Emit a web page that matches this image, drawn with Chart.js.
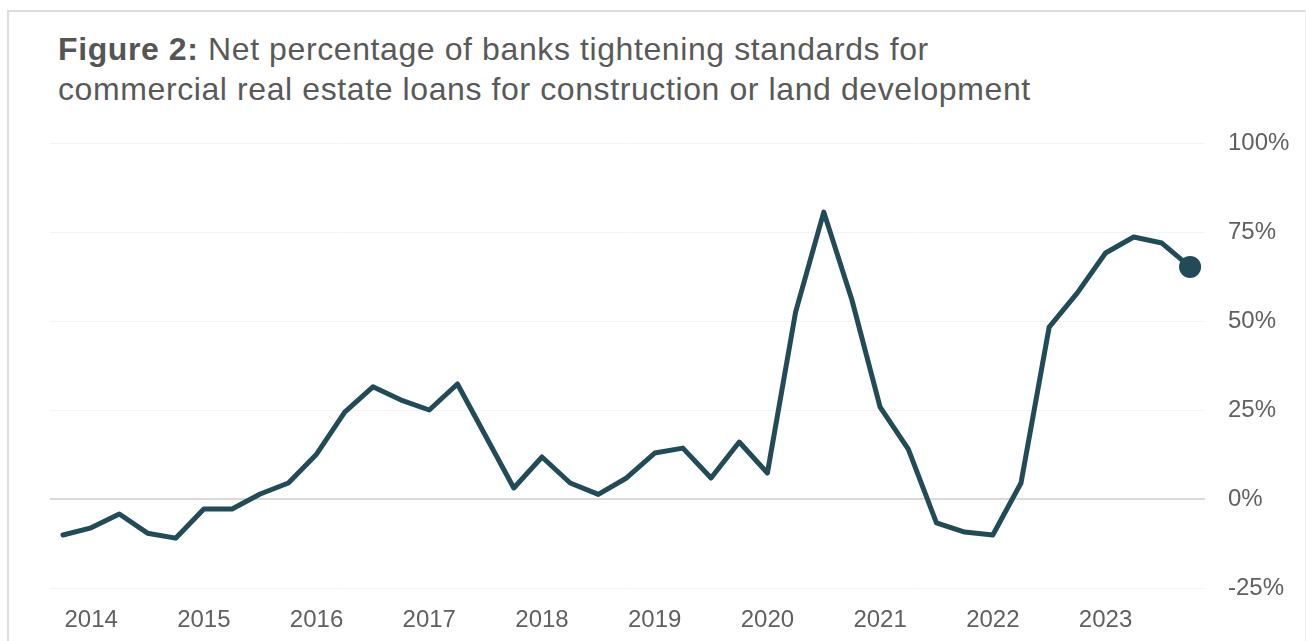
<!DOCTYPE html>
<html>
<head>
<meta charset="utf-8">
<script src="https://cdn.jsdelivr.net/npm/chart.js@4"></script>
<style>
  html, body { margin: 0; padding: 0; background: #fff; }
  body { width: 1306px; height: 641px; position: relative; overflow: hidden; font-family: "Liberation Sans", Arial, sans-serif; }
  .frame { position: absolute; left: 7px; top: 10px; right: 0; bottom: -5px; border-top: 2px solid #dcdcdc; border-left: 2px solid #dcdcdc; border-right: 1px solid #ececec; }
  .title { position: absolute; left: 58px; top: 29px; font-size: 32px; letter-spacing: 0.6px; line-height: 40px; color: #595959; white-space: nowrap; }
  .title b { color: #555; }
  #chart { position: absolute; left: 0; top: 0; }
</style>
</head>
<body>
<div class="frame"></div>
<div class="title"><b>Figure 2:</b> Net percentage of banks tightening standards for<br>commercial real estate loans for construction or land development</div>
<canvas id="chart" width="1306" height="641"></canvas>
<script>
// quarterly survey dates, 2013 Q4 .. 2023 Q4
const quarters = [
  '2013 Q4',
  '2014 Q1','2014 Q2','2014 Q3','2014 Q4',
  '2015 Q1','2015 Q2','2015 Q3','2015 Q4',
  '2016 Q1','2016 Q2','2016 Q3','2016 Q4',
  '2017 Q1','2017 Q2','2017 Q3','2017 Q4',
  '2018 Q1','2018 Q2','2018 Q3','2018 Q4',
  '2019 Q1','2019 Q2','2019 Q3','2019 Q4',
  '2020 Q1','2020 Q2','2020 Q3','2020 Q4',
  '2021 Q1','2021 Q2','2021 Q3','2021 Q4',
  '2022 Q1','2022 Q2','2022 Q3','2022 Q4',
  '2023 Q1','2023 Q2','2023 Q3','2023 Q4'
];
// net % tightening
const netTightening = [
  -10.1,
  -8.1, -4.2, -9.6, -11.0,
  -2.8, -2.8, 1.4, 4.5,
  12.6, 24.4, 31.5, 27.8,
  25.0, 32.3, 17.7, 3.1,
  11.8, 4.5, 1.3, 5.9,
  12.9, 14.3, 5.9, 16.0,
  7.3, 52.5, 80.6, 55.9,
  25.8, 14.0, -6.7, -9.3,
  -10.1, 4.5, 48.3, 57.9,
  69.1, 73.6, 71.9, 65.2
];
const yearLabels = ['2014','2015','2016','2017','2018','2019','2020','2021','2022','2023'];
const yTicks = [-25, 0, 25, 50, 75, 100];

const lineColor = '#234b57';
const textColor = '#606060';
const tickFont = { family: '"Liberation Sans", Arial, sans-serif', size: 24 };

// x tick positions: first quarter of each labelled year
const yearTickIdx = yearLabels.map(y => quarters.indexOf(y + ' Q1'));
const points = netTightening.map((v, i) => ({ x: i, y: v }));
const lastIdx = points.length - 1;

new Chart(document.getElementById('chart'), {
  type: 'line',
  data: {
    datasets: [{
      label: 'Net % tightening',
      data: points,
      borderColor: lineColor,
      backgroundColor: lineColor,
      borderWidth: 5,
      borderJoinStyle: 'round',
      borderCapStyle: 'round',
      tension: 0,
      pointRadius: ctx => ctx.dataIndex === lastIdx ? 11 : 0,
      pointBorderWidth: 0,
      pointHoverRadius: 0
    }]
  },
  options: {
    responsive: false,
    animation: false,
    layout: { padding: { top: 143, left: 50, right: 0, bottom: 0 } },
    plugins: { legend: { display: false }, tooltip: { enabled: false } },
    scales: {
      x: {
        type: 'linear',
        min: -0.46,
        max: 40.53,
        grid: { display: false },
        border: { display: false },
        afterBuildTicks: s => { s.ticks = yearTickIdx.map(v => ({ value: v })); },
        afterFit: s => { s.height = 53; },
        ticks: {
          autoSkip: false,
          maxRotation: 0,
          padding: 10,
          color: textColor,
          font: tickFont,
          callback: v => quarters[v] ? quarters[v].slice(0, 4) : ''
        }
      },
      y: {
        position: 'right',
        min: -25,
        max: 100,
        afterBuildTicks: s => { s.ticks = yTicks.map(v => ({ value: v })); },
        afterFit: s => { s.width = 101; },
        grid: {
          drawTicks: false,
          color: c => c.tick && c.tick.value === 0 ? '#d9d9d9' : '#f4f4f4',
          lineWidth: c => c.tick && c.tick.value === 0 ? 2 : 1
        },
        border: { display: false },
        ticks: {
          padding: 23,
          color: textColor,
          font: tickFont,
          callback: v => v + '%'
        }
      }
    }
  }
});
</script>
</body>
</html>
